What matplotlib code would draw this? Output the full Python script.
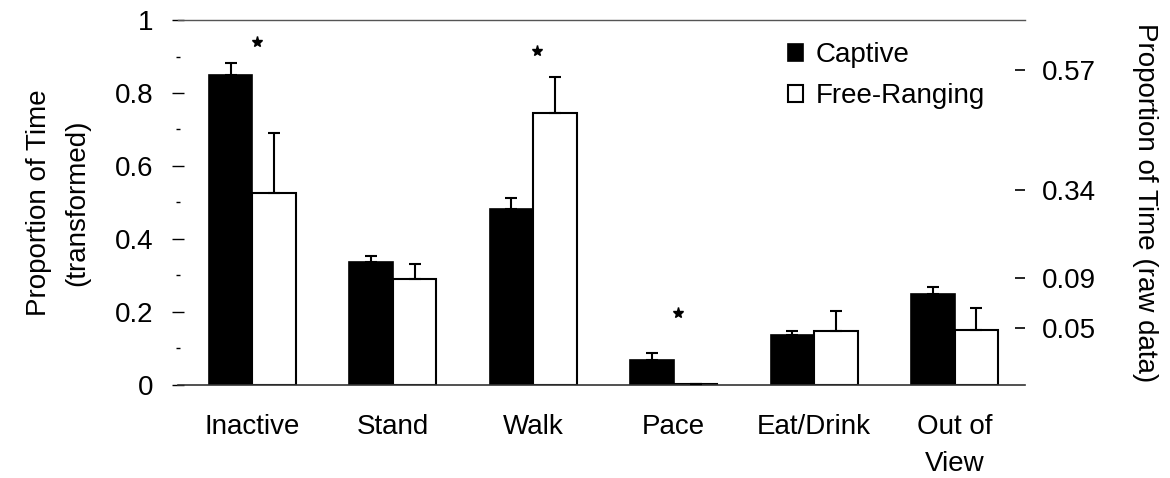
import matplotlib
matplotlib.use("Agg")
import matplotlib.pyplot as plt
import numpy as np

plt.rcParams['font.family'] = ['Liberation Sans', 'DejaVu Sans']

categories = ["Inactive", "Stand", "Walk", "Pace", "Eat/Drink", "Out of\nView"]
captive = [0.849, 0.337, 0.482, 0.068, 0.137, 0.249]
captive_err = [0.033, 0.017, 0.030, 0.019, 0.011, 0.020]
free_ranging = [0.526, 0.290, 0.745, 0.002, 0.148, 0.151]
free_err = [0.164, 0.041, 0.099, 0.0, 0.055, 0.060]
# significant differences: category index and star height
star_idx = [0, 2, 3]
star_y = [0.94, 0.915, 0.197]
raw_ticks = [0.863, 0.534, 0.293, 0.156]
raw_labels = ["0.57", "0.34", "0.09", "0.05"]


def main():
    fig = plt.figure(figsize=(11.7, 4.78), dpi=100)
    ax = fig.add_axes([0.152, 0.195, 0.724, 0.763])
    fs = 20

    x = np.arange(len(categories))
    w = 0.31
    ax.bar(x - w / 2, captive, w, color='black', edgecolor='black', linewidth=1.2,
           label='Captive', zorder=2)
    ax.bar(x + w / 2, free_ranging, w, color='white', edgecolor='black', linewidth=1.5,
           label='Free-Ranging', zorder=2)
    ax.errorbar(x - w / 2, captive, yerr=[np.zeros(len(x)), captive_err], fmt='none',
                ecolor='black', elinewidth=1.5, capsize=4.5, capthick=1.5, zorder=3)
    ax.errorbar(x + w / 2, free_ranging, yerr=[np.zeros(len(x)), free_err], fmt='none',
                ecolor='black', elinewidth=1.5, capsize=4.5, capthick=1.5, zorder=3)

    ax.plot(np.array(star_idx) + 0.03, star_y, ls='', marker='*', ms=8, color='black')

    ax.set_xlim(-0.53, 5.5)
    ax.set_ylim(0, 1)
    ax.set_xticks(x)
    ax.set_xticklabels(categories, fontsize=fs, linespacing=1.55)
    ax.set_yticks([0, 0.2, 0.4, 0.6, 0.8, 1])
    ax.set_yticklabels(['0', '0.2', '0.4', '0.6', '0.8', '1'], fontsize=fs)
    ax.set_yticks(np.arange(0.1, 1.0, 0.2), minor=True)
    ax.tick_params(axis='x', length=0, pad=21)
    ax.tick_params(axis='y', which='major', length=9, direction='inout', width=1, pad=13)
    ax.tick_params(axis='y', which='minor', length=3, direction='inout', width=1)

    ax.spines['left'].set_visible(False)
    ax.spines['right'].set_visible(False)
    ax.spines['top'].set_linewidth(1)
    ax.spines['top'].set_color('#555555')
    ax.spines['bottom'].set_linewidth(1.2)
    ax.spines['bottom'].set_color('#333333')

    ax.set_ylabel('Proportion of Time\n(transformed)', fontsize=fs, labelpad=18,
                  linespacing=1.6)

    ax2 = ax.twinx()
    ax2.set_ylim(0, 1)
    ax2.set_yticks(raw_ticks)
    ax2.set_yticklabels(raw_labels, fontsize=fs)
    ax2.tick_params(axis='y', length=7, direction='in', width=1.2, pad=12)
    for s in ax2.spines.values():
        s.set_visible(False)
    ax2.set_ylabel('Proportion of Time (raw data)', fontsize=fs, rotation=-90, labelpad=45)

    ax.legend(loc='upper left', bbox_to_anchor=(0.72, 0.94), frameon=False,
              fontsize=fs, handlelength=0.55, handleheight=0.55, handletextpad=0.45,
              labelspacing=0.55, borderpad=0, borderaxespad=0)

    fig.savefig('out.png', dpi=100)


if __name__ == "__main__":
    main()
